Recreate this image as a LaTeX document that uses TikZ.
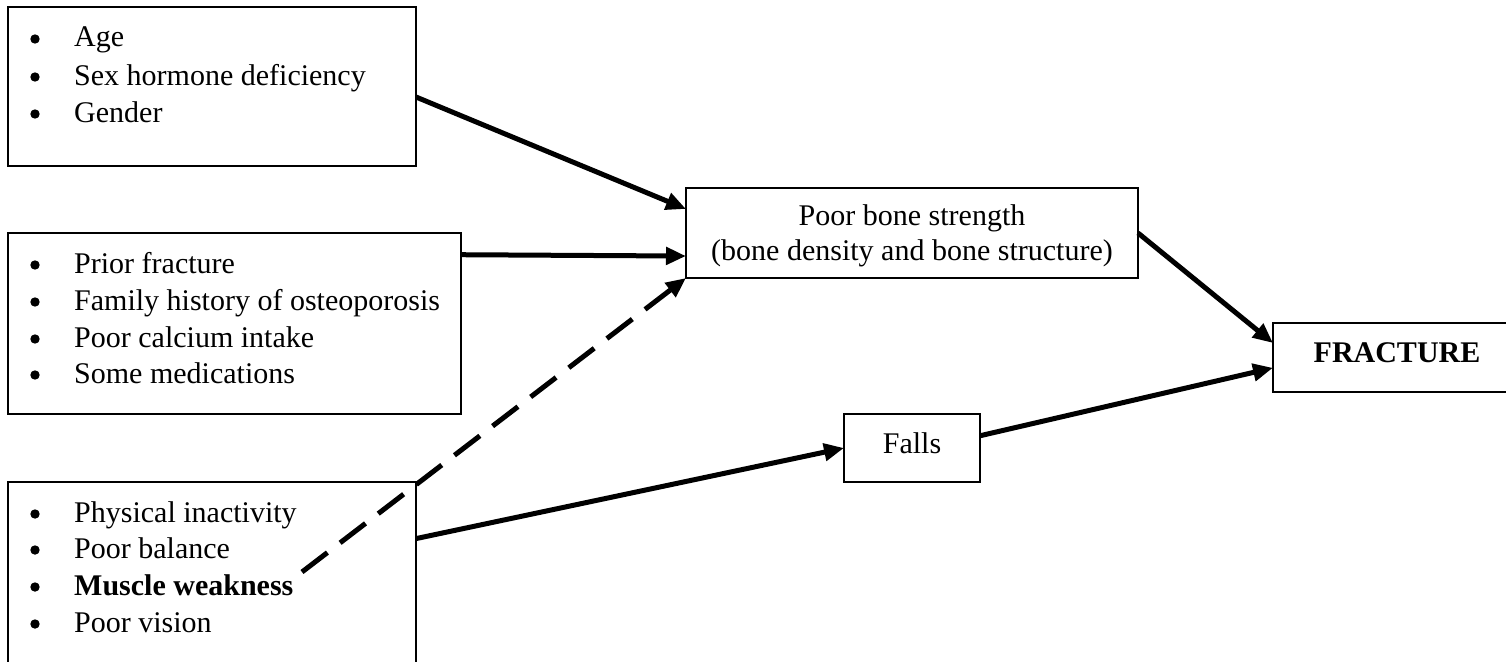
\documentclass[tikz,border=0pt]{standalone}
\usepackage{fontspec}
\setmainfont{Liberation Serif}
\usetikzlibrary{arrows.meta,calc}
\begin{document}
\begin{tikzpicture}[x=1pt,y=-1pt,
  box/.style={draw=black,line width=1.6pt,inner sep=0pt,outer sep=0pt,anchor=north west},
  item/.style={anchor=base west,inner sep=0pt,font=\fontsize{30}{37}\selectfont},
  ctext/.style={anchor=base,inner sep=0pt,font=\fontsize{30}{37}\selectfont},
  arr/.style={line width=5pt,-{Triangle[length=20pt,width=17pt]}},
  dasharr/.style={arr,dash pattern=on 32pt off 16pt},
  bul/.style={fill=black}]
\useasboundingbox (0,0) rectangle (1506,661);
\fill[white] (0,0) rectangle (1506,661);
\clip (0,0) rectangle (1506,661);

% boxes
\node[box,minimum width=408pt,minimum height=159pt] (A) at (8,7) {};
\node[box,minimum width=453pt,minimum height=181pt] (B) at (8,233) {};
\node[box,minimum width=408pt,minimum height=200pt] (C) at (8,482) {};
\node[box,minimum width=452pt,minimum height=90pt] (P) at (686,188) {};
\node[box,minimum width=136pt,minimum height=68pt] (Fa) at (844,414) {};
\node[box,minimum width=252pt,minimum height=69pt] (F) at (1273,323) {};

% box A items
\foreach \y in {47,85,122} {\fill[bul] (35,\y-8) circle (4.7);}
\node[item] (a1) at (74,47) {Age};
\node[item] (a2) at (74,85) {Sex hormone deficiency};
\node[item] (a3) at (74,122) {Gender};

% box B items
\foreach \y in {273,310,347,383} {\fill[bul] (35,\y-8) circle (4.7);}
\node[item] (b1) at (74,273) {Prior fracture};
\node[item] (b2) at (74,310) {Family history of osteoporosis};
\node[item] (b3) at (74,347) {Poor calcium intake};
\node[item] (b4) at (74,383) {Some medications};

% box C items
\foreach \y in {522,558,595,632} {\fill[bul] (35,\y-8) circle (4.7);}
\node[item] (c1) at (74,522) {Physical inactivity};
\node[item] (c2) at (74,558) {Poor balance};
\node[item] (c3) at (74,595) {\bfseries Muscle weakness};
\node[item] (c4) at (74,632) {Poor vision};

% centre texts
\node[ctext] (p1) at (912,225) {Poor bone strength};
\node[ctext] (p2) at (912,260) {(bone density and bone structure)};
\node[ctext] (fa1) at (912,453) {Falls};
\node[ctext] (f1) at (1397,362) {\bfseries FRACTURE};

\coordinate (dstart) at (302,572);

% connectors
\draw[arr] ($(A.north east)!0.566!(A.south east)$) -- ($(P.north west)!0.233!(P.south west)$);
\draw[arr] ($(B.north east)!0.12!(B.south east)$) -- ($(P.north west)!0.756!(P.south west)$);
\draw[dasharr] (dstart) -- (P.south west);
\draw[arr] ($(C.north east)!0.283!(C.south east)$) -- (Fa.west);
\draw[arr] ($(Fa.north east)!0.32!(Fa.south east)$) -- ($(F.north west)!0.65!(F.south west)$);
\draw[arr] (P.east) -- ($(F.north west)!0.29!(F.south west)$);
\end{tikzpicture}
\end{document}
